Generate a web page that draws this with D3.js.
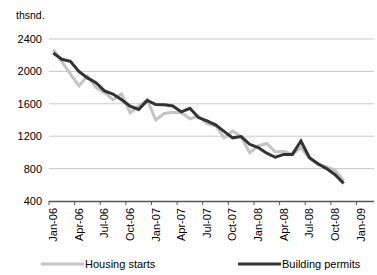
<!DOCTYPE html>
<html>
<head>
<meta charset="utf-8">
<script src="https://cdn.jsdelivr.net/npm/d3@7"></script>
<style>
  body { margin: 0; background: #fff; }
  text { font-family: "Liberation Sans", Arial, sans-serif; fill: #000; }
</style>
</head>
<body>
<div id="chart"></div>
<script>
var months = ["Jan-06","Feb-06","Mar-06","Apr-06","May-06","Jun-06","Jul-06","Aug-06","Sep-06","Oct-06","Nov-06","Dec-06",
              "Jan-07","Feb-07","Mar-07","Apr-07","May-07","Jun-07","Jul-07","Aug-07","Sep-07","Oct-07","Nov-07","Dec-07",
              "Jan-08","Feb-08","Mar-08","Apr-08","May-08","Jun-08","Jul-08","Aug-08","Sep-08","Oct-08","Nov-08","Dec-08",
              "Jan-09","Feb-09"];

var tickLabels = ["Jan-06","Apr-06","Jul-06","Oct-06","Jan-07","Apr-07","Jul-07","Oct-07","Jan-08","Apr-08","Jul-08","Oct-08","Jan-09"];

var yTicks = [400, 800, 1200, 1600, 2000, 2400];

// thousands, Jan-06 .. Nov-08
var housingStarts = [2273, 2119, 1969, 1821, 1942, 1802, 1737, 1650, 1720, 1491, 1570, 1649,
                     1400, 1480, 1495, 1490, 1415, 1448, 1354, 1330, 1183, 1264, 1197, 995,
                     1080, 1110, 1005, 1013, 975, 1060, 930, 850, 820, 780, 650];

var buildingPermits = [2227, 2150, 2125, 2000, 1920, 1860, 1760, 1720, 1650, 1570, 1530, 1642,
                       1590, 1588, 1574, 1500, 1544, 1430, 1390, 1340, 1260, 1180, 1195, 1100,
                       1060, 990, 940, 975, 975, 1140, 935, 860, 800, 725, 618];

var margin = { top: 39, right: 3, bottom: 74, left: 49 },
    width = 377 - margin.left - margin.right,
    height = 275 - margin.top - margin.bottom;

var svg = d3.select("#chart").append("svg")
    .attr("width", 377)
    .attr("height", 275)
  .append("g")
    .attr("transform", "translate(" + margin.left + "," + margin.top + ")");

var x = d3.scaleBand()
    .domain(months)
    .range([0, 38 * 8.54])
    .padding(0);

var y = d3.scaleLinear()
    .domain([400, 2400])
    .range([height, 0]);

// gridlines
svg.selectAll(".grid")
    .data(yTicks.slice(1))
    .enter().append("line")
    .attr("class", "grid")
    .attr("x1", 0)
    .attr("x2", width)
    .attr("y1", function (d) { return y(d); })
    .attr("y2", function (d) { return y(d); })
    .attr("stroke", "#c8c8c8")
    .attr("stroke-width", 1);

// y axis labels
var yAxis = d3.axisLeft(y).tickValues(yTicks).tickFormat(d3.format("d")).tickSize(0).tickPadding(7);
var gy = svg.append("g").call(yAxis);
gy.select(".domain").remove();
gy.selectAll("text").style("font-size", "11px");

svg.append("text")
    .attr("x", -33)
    .attr("y", -20)
    .style("font-size", "10.5px")
    .text("thsnd.");

// x axis
var bw = x.bandwidth();
var xAxis = d3.axisBottom(x).tickValues(tickLabels).tickSize(4).tickSizeOuter(0);
var gx = svg.append("g")
    .attr("transform", "translate(0," + height + ")")
    .call(xAxis);
gx.select(".domain").attr("d", "M0,0.5H" + width).attr("stroke", "#555").attr("stroke-width", 1.5);
gx.selectAll(".tick line")
    .attr("x1", -bw / 2).attr("x2", -bw / 2)
    .attr("stroke", "#555");
gx.selectAll(".tick text")
    .style("font-size", "11px")
    .attr("transform", "rotate(-90)")
    .attr("text-anchor", "end")
    .attr("x", -7)
    .attr("y", 0)
    .attr("dy", "0.35em");

// lines
var line = d3.line()
    .x(function (d, i) { return x(months[i]) + bw / 2; })
    .y(function (d) { return y(d); });

svg.append("path")
    .datum(housingStarts)
    .attr("fill", "none")
    .attr("stroke", "#c4c4c4")
    .attr("stroke-width", 3)
    .attr("d", line);

svg.append("path")
    .datum(buildingPermits)
    .attr("fill", "none")
    .attr("stroke", "#333333")
    .attr("stroke-width", 3)
    .attr("d", line);

// legend
var legend = [
  { name: "Housing starts", color: "#c4c4c4", x: -8 },
  { name: "Building permits", color: "#333333", x: 189 }
];
var lg = svg.selectAll(".legend")
    .data(legend)
    .enter().append("g")
    .attr("class", "legend")
    .attr("transform", function (d) { return "translate(" + d.x + "," + (height + 63) + ")"; });
lg.append("line")
    .attr("x1", 0).attr("x2", 43)
    .attr("stroke", function (d) { return d.color; })
    .attr("stroke-width", 3);
lg.append("text")
    .attr("x", 44)
    .attr("dy", "0.35em")
    .style("font-size", "11px")
    .text(function (d) { return d.name; });
</script>
</body>
</html>
